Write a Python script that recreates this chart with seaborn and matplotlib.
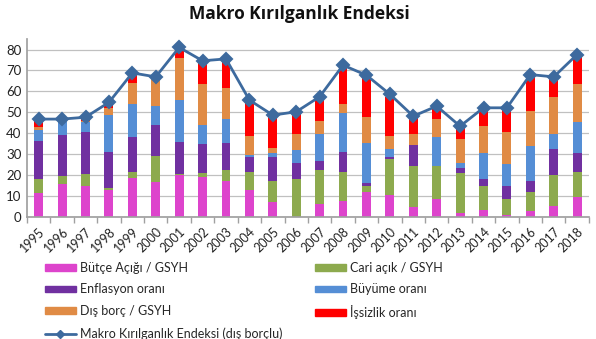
import matplotlib
matplotlib.use("Agg")
import matplotlib.pyplot as plt
import seaborn as sns
import numpy as np
import pandas as pd
from matplotlib.patches import Rectangle
from matplotlib.lines import Line2D

years = [str(y) for y in range(1995, 2019)]

butce     = [11.2, 15.6, 14.8, 12.7, 18.3, 16.4, 19.9, 19.1, 17.2, 12.7, 6.9, 0.0, 6.1, 7.6, 12.0, 10.4, 4.5, 8.4, 1.9, 3.2, 0.8, 2.7, 5.1, 9.6]
cari      = [6.6, 4.0, 5.6, 0.8, 3.1, 12.8, 0.3, 1.6, 5.1, 8.8, 10.2, 18.0, 16.2, 13.8, 2.7, 17.2, 19.7, 15.8, 18.8, 11.5, 7.6, 9.3, 14.8, 11.9]
enflasyon = [18.5, 19.3, 20.2, 17.6, 16.5, 14.9, 15.5, 13.9, 13.1, 7.2, 11.6, 7.8, 4.3, 9.5, 1.6, 1.1, 10.1, 0.2, 2.7, 3.3, 6.4, 5.1, 12.3, 8.8]
buyume    = [5.1, 7.3, 4.5, 17.5, 16.0, 8.8, 19.9, 9.4, 11.3, 0.6, 1.6, 6.1, 13.2, 18.5, 19.1, 3.5, 0.0, 13.7, 2.4, 12.3, 10.2, 16.7, 7.6, 14.8]
disborc   = [1.6, 0.3, 0.8, 3.2, 10.2, 14.0, 20.1, 19.3, 15.0, 9.4, 2.7, 7.9, 6.1, 4.5, 12.1, 6.5, 5.5, 8.8, 11.5, 13.0, 15.6, 16.7, 17.6, 18.2]
issizlik  = [3.5, 0.3, 1.4, 2.4, 4.4, 0.0, 4.3, 10.8, 12.9, 16.3, 15.1, 9.9, 10.7, 17.5, 19.4, 18.7, 7.7, 5.1, 5.7, 8.0, 11.2, 16.4, 9.1, 13.2]
endeks    = [46.7, 46.7, 47.6, 54.7, 68.8, 66.9, 81.0, 74.6, 75.5, 55.8, 48.6, 50.2, 57.4, 72.5, 67.7, 58.6, 48.1, 52.9, 43.3, 52.1, 52.1, 68.0, 66.9, 77.6]

series_names = ["Bütçe Açığı / GSYH", "Cari açık / GSYH", "Enflasyon oranı",
                "Büyüme oranı", "Dış borç / GSYH", "İşsizlik oranı"]
line_name = "Makro Kırılganlık Endeksi (dış borçlu)"
colors = ["#DD44CC", "#8DAA4E", "#7030A0", "#558ED5", "#E08B45", "#FF0000"]
line_color = "#3D6A9E"

sns.set_theme(style="white")
plt.rcParams['font.family'] = ['Lato', 'DejaVu Sans']

fig = plt.figure(figsize=(5.96, 3.39), dpi=100)
ax = fig.add_axes([0.0453, 0.3608, 0.9427, 0.524])

data = np.array([butce, cari, enflasyon, buyume, disborc, issizlik])
cum = np.cumsum(data, axis=0)

for i in range(len(series_names) - 1, -1, -1):
    df = pd.DataFrame({"year": years, "val": cum[i]})
    sns.barplot(data=df, x="year", y="val", color=colors[i], width=0.38,
                saturation=1, ax=ax, zorder=2, linewidth=0)

sns.pointplot(x=years, y=endeks, color=line_color, markers="D",
              markersize=6, linewidth=2, ax=ax, zorder=4)

ax.set_ylim(0, 85)
ax.set_xlim(-0.5, len(years) - 0.5)
ax.set_yticks(range(0, 81, 10))
ax.yaxis.grid(True, color="#C0C0C0", linewidth=0.9, zorder=0)
ax.set_axisbelow(True)
ax.set_xlabel("")
ax.set_ylabel("")
for s in ["top", "right"]:
    ax.spines[s].set_visible(False)
ax.spines["left"].set_color("#A0A0A0")
ax.spines["bottom"].set_color("#A0A0A0")
ax.tick_params(axis="y", labelsize=9.5, length=0, pad=4, colors="#222222")
ax.set_xticks(np.arange(len(years)))
ax.set_xticklabels(years, rotation=45, ha="right", rotation_mode="anchor",
                   fontsize=9, color="#222222")
ax.tick_params(axis="x", length=0, pad=6)
ax.set_xticks(np.arange(-0.5, len(years), 1), minor=True)
ax.tick_params(axis="x", which="minor", length=4, color="#A0A0A0", bottom=True)

fig.text(0.503, 0.958, "Makro Kırılganlık Endeksi", ha="center", va="center",
         fontsize=12.5, fontweight="bold", color="#111111",
         family=["Open Sans", "DejaVu Sans"])

handles = [Rectangle((0, 0), 1, 1, color=c) for c in colors]
lh = Line2D([0], [0], color=line_color, linewidth=2, marker="D", markersize=4)
order_handles = [handles[0], handles[2], handles[4], lh, handles[1], handles[3], handles[5]]
order_labels = [series_names[0], series_names[2], series_names[4], line_name,
                series_names[1], series_names[3], series_names[5]]
fig.legend(order_handles, order_labels, ncol=2, loc="upper left",
           bbox_to_anchor=(0.075, 0.228), frameon=False, fontsize=9,
           handlelength=2.5, handleheight=0.45, handletextpad=0.3,
           columnspacing=2.6, labelspacing=0.78, borderaxespad=0,
           borderpad=0)

fig.savefig("out.png", dpi=100)
